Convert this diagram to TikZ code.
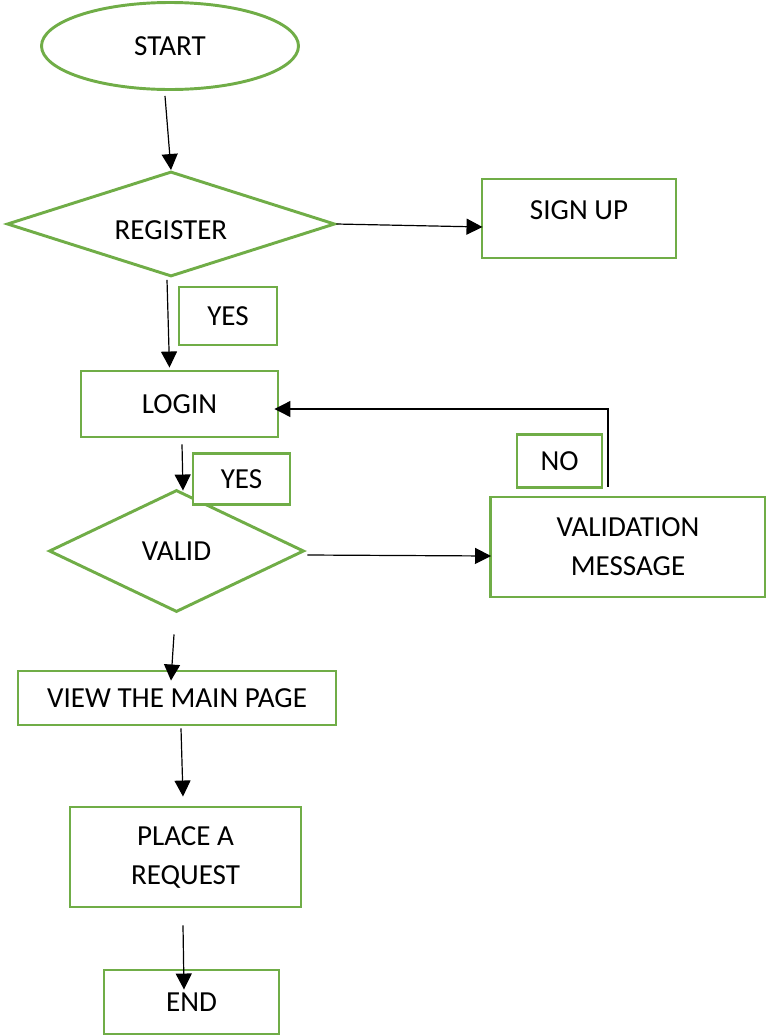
\documentclass[tikz,border=0pt]{standalone}
\usepackage{fontspec}
\setmainfont{Carlito}
\usetikzlibrary{shapes.geometric,arrows.meta}
\definecolor{boxgreen}{HTML}{70AD47}

\begin{document}
\begin{tikzpicture}[x=0.75pt,y=-0.75pt,
    every node/.style={font=\fontsize{21.8}{29.25}\selectfont},
    box/.style={draw=boxgreen, line width=2.2pt, rectangle, inner sep=0pt, align=center},
    decision/.style={draw=boxgreen, line width=2.2pt, diamond, inner sep=0pt},
    arr/.style={line width=0.9pt, -{Triangle[length=12pt,width=12pt]}}]
    \useasboundingbox (0,0) rectangle (766,1036);

    % start and register
    \node[draw=boxgreen, line width=2.2pt, ellipse, minimum width=192.75pt, minimum height=65.25pt] (start) at (170,46) {START};
    \node[decision, aspect=3.1, minimum width=246pt, minimum height=78.75pt, text height=23pt] (register) at (171,224) {REGISTER};
    \node[box, minimum width=145.5pt, minimum height=59.25pt, text depth=12.75pt] (signup) at (579,218.5) {SIGN UP};
    \node[box, minimum width=73.5pt, minimum height=43.5pt] (yesreg) at (228,316) {YES};

    % login and check
    \node[box, minimum width=147.75pt, minimum height=49.5pt] (login) at (179.5,404) {LOGIN};
    \node[decision, aspect=2.1, minimum width=191.25pt, minimum height=91.5pt] (valid) at (176.5,551) {VALID};
    \node[box, fill=white, minimum width=72.75pt, minimum height=38.25pt] (yesvalid) at (241.5,479) {YES};
    \node[box, minimum width=206.25pt, minimum height=75pt] (message) at (628,547) {VALIDATION\\MESSAGE};
    \node[box, minimum width=63.75pt, minimum height=39.75pt] (no) at (559.5,461) {NO};

    % rest of the flow
    \node[box, minimum width=238.5pt, minimum height=40.5pt] (mainpage) at (177,698) {VIEW THE MAIN PAGE};
    \node[box, minimum width=173.25pt, minimum height=75pt] (request) at (185.5,857) {PLACE A\\REQUEST};
    \node[box, minimum width=131.25pt, minimum height=48pt] (end) at (191.5,1002) {END};

    % arrows
    \draw[arr] ([shift={(-5,5)}]start.south) -- (register.north);
    \draw[arr] (register.east) -- ([shift={(2,8.5)}]signup.west);
    \draw[arr] ([shift={(-4,2)}]register.south) -- ([shift={(-10,-2)}]login.north);
    \draw[arr] ([shift={(2.5,6)}]login.south) -- ([shift={(6.5,2)}]valid.north);
    \draw[arr] ([shift={(2,4)}]valid.east) -- ([shift={(2,9)}]message.west);
    \draw[arr] ([shift={(-20,-9)}]message.north) |- ([shift={(-5,5)}]login.east);
    \draw[arr] ([shift={(-2.5,21)}]valid.south) -- ([shift={(-6,11)}]mainpage.north);
    \draw[arr] ([shift={(4,2)}]mainpage.south) -- ([shift={(-2.5,-9)}]request.north);
    \draw[arr] ([shift={(-2.5,17)}]request.south) -- ([shift={(-7.5,21)}]end.north);

\end{tikzpicture}
\end{document}
